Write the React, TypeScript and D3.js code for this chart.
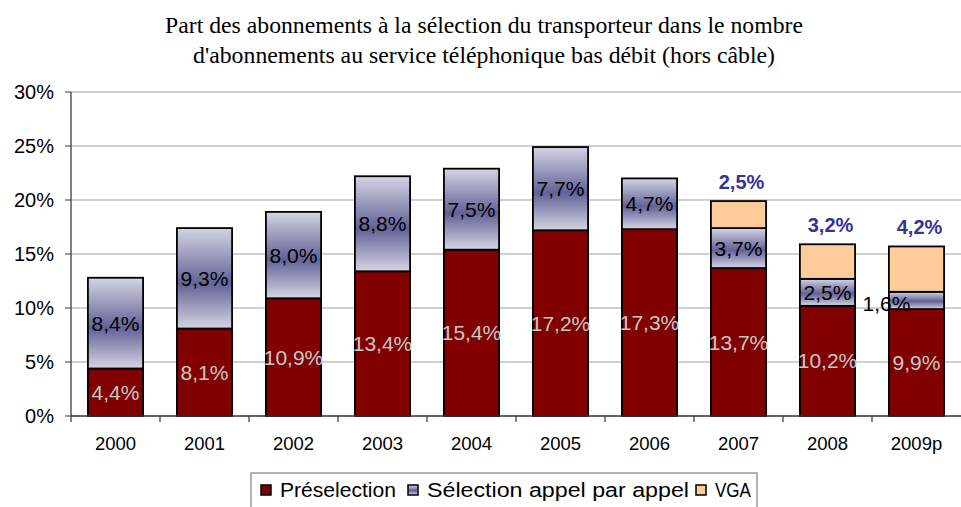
import React from "react";
import * as d3 from "d3";

const years = ["2000", "2001", "2002", "2003", "2004", "2005", "2006", "2007", "2008", "2009p"];
const preselection = [4.4, 8.1, 10.9, 13.4, 15.4, 17.2, 17.3, 13.7, 10.2, 9.9];
const selection = [8.4, 9.3, 8.0, 8.8, 7.5, 7.7, 4.7, 3.7, 2.5, 1.6];
const vga = [0, 0, 0, 0, 0, 0, 0, 2.5, 3.2, 4.2];
const yTicks = [0, 5, 10, 15, 20, 25, 30];
const seriesNames = ["Préselection", "Sélection appel par appel", "VGA"];

const fmt = (v: number) => v.toFixed(1).replace(".", ",") + "%";

const App = () => {
  const width = 961;
  const height = 507;
  const margin = { top: 92, right: 0, bottom: 92, left: 71 };

  const x = d3
    .scaleBand()
    .domain(years)
    .range([margin.left, width - margin.right])
    .paddingInner(0.38)
    .paddingOuter(0.19);

  const y = d3
    .scaleLinear()
    .domain([0, 30])
    .range([height - margin.bottom + 1, margin.top]);

  const rows = years.map((yr, i) => ({
    year: yr,
    preselection: preselection[i],
    selection: selection[i],
    vga: vga[i],
  }));
  const stacked = d3.stack<any>().keys(["preselection", "selection", "vga"])(rows);
  const fills = ["#800000", "url(#selGrad)", "#FFCC99"];

  const step = x.step();
  const x0 = margin.left;
  const font = "Liberation Sans, Arial, sans-serif";
  const serif = "'Liberation Serif', 'Times New Roman', serif";

  // légende : position et largeur du texte
  const legendX = [261, 408, 696];
  const legendW = [116, 262, 36];

  return (
    <svg width={width} height={height} style={{ position: "absolute", left: 0, top: 0 }}>
      <defs>
        <linearGradient id="selGrad" x1="0" y1="0" x2="0" y2="1">
          <stop offset="0%" stopColor="#D4D4E4" />
          <stop offset="55%" stopColor="#626296" />
          <stop offset="100%" stopColor="#D4D4E4" />
        </linearGradient>
      </defs>
      <rect width={width} height={height} fill="#fff" />

      {/* titre */}
      <text x={165} y={33} fontFamily={serif} fontSize={22.5} textLength={638} lengthAdjust="spacingAndGlyphs">
        Part des abonnements à la sélection du transporteur dans le nombre
      </text>
      <text x={193} y={63} fontFamily={serif} fontSize={22.5} textLength={582} lengthAdjust="spacingAndGlyphs">
        d'abonnements au service téléphonique bas débit (hors câble)
      </text>

      {/* grille + axe Y */}
      {yTicks.map((t) => (
        <g key={t}>
          {t > 0 && (
            <line x1={x0} x2={width} y1={y(t)} y2={y(t)} stroke="#C0C0C0" strokeWidth={1.5} />
          )}
          <line x1={x0 - 6} x2={x0} y1={y(t)} y2={y(t)} stroke="#555" strokeWidth={1.2} />
          <text x={x0 - 17} y={y(t) + 7} textAnchor="end" fontFamily={font} fontSize={20}>
            {t}%
          </text>
        </g>
      ))}
      <line x1={x0} x2={x0} y1={y(30)} y2={y(0)} stroke="#555" strokeWidth={1.5} />

      {/* barres */}
      {stacked.map((s, si) =>
        s.map((d, i) => {
          if (d[1] - d[0] <= 0) return null;
          return (
            <rect
              key={si + "-" + i}
              x={x(years[i])}
              width={x.bandwidth()}
              y={y(d[1])}
              height={y(d[0]) - y(d[1])}
              fill={fills[si]}
              stroke="#000"
              strokeWidth={1.8}
            />
          );
        })
      )}

      {/* axe X */}
      <line x1={x0} x2={width} y1={y(0)} y2={y(0)} stroke="#333" strokeWidth={1.5} />
      {years.map((yr, i) => (
        <g key={yr}>
          <line x1={x0 + step * i} x2={x0 + step * i} y1={y(0)} y2={y(0) + 6} stroke="#333" strokeWidth={1.2} />
          <text x={(x(yr) as number) + x.bandwidth() / 2} y={y(0) + 34} textAnchor="middle" fontFamily={font} fontSize={18.5}>
            {yr}
          </text>
        </g>
      ))}

      {/* étiquettes */}
      {rows.map((r, i) => {
        const cx = (x(r.year) as number) + x.bandwidth() / 2;
        const pMid = y(r.preselection / 2);
        const sMid = y(r.preselection + r.selection / 2);
        const top = y(r.preselection + r.selection + r.vga);
        const small = r.selection < 2;
        return (
          <g key={"lab" + i} fontFamily={font} fontSize={21}>
            <text x={cx} y={pMid + 7.5} textAnchor="middle" fill="#C8C8C8">
              {fmt(r.preselection)}
            </text>
            <text
              x={small ? cx - 30 : cx}
              y={small ? sMid + 11 : sMid + 7.5}
              textAnchor="middle"
              fill="#000"
            >
              {fmt(r.selection)}
            </text>
            {r.vga > 0 && (
              <text x={cx + 3} y={top - 12} textAnchor="middle" fill="#333399" fontWeight="bold" fontSize={20}>
                {fmt(r.vga)}
              </text>
            )}
          </g>
        );
      })}

      {/* légende */}
      <rect x={251} y={473} width={506} height={40} fill="#fff" stroke="#808080" strokeWidth={1.2} />
      {seriesNames.map((n, i) => {
        const lx = legendX[i];
        return (
          <g key={n}>
            <rect x={lx} y={485} width={10} height={10} fill={fills[i]} stroke="#000" strokeWidth={1.5} />
            <text x={lx + 19} y={497} fontFamily={font} fontSize={20} textLength={legendW[i]} lengthAdjust="spacingAndGlyphs">
              {n}
            </text>
          </g>
        );
      })}
    </svg>
  );
};

export default App;
